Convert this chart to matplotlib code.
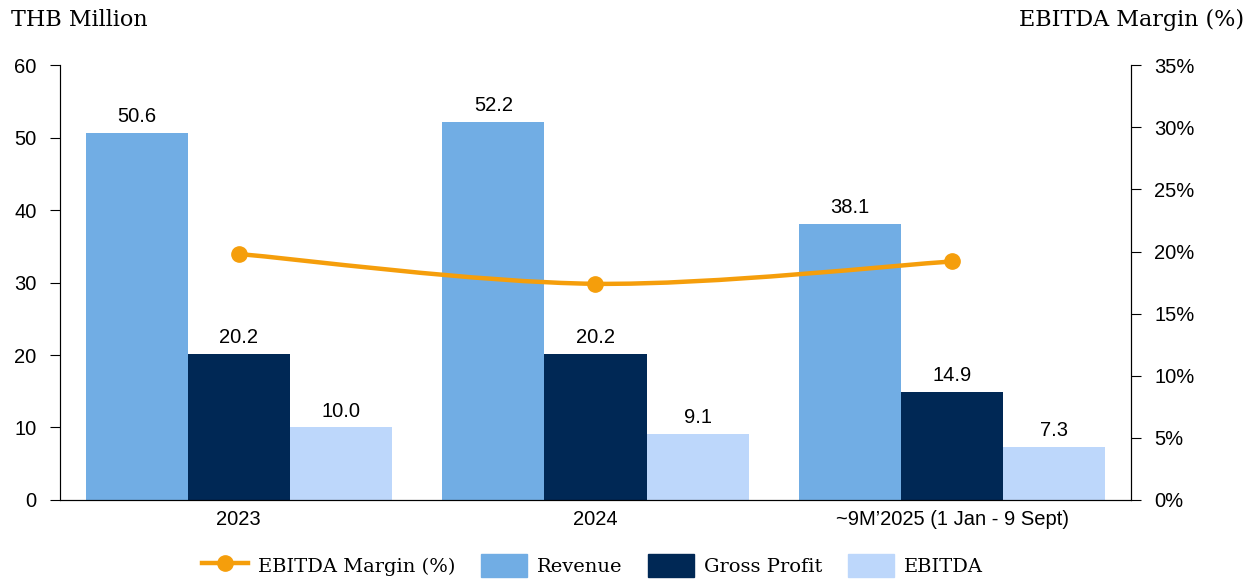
import matplotlib.pyplot as plt
import numpy as np
from matplotlib.path import Path
from matplotlib.patches import PathPatch
from matplotlib.lines import Line2D
from matplotlib.patches import Patch
from matplotlib.ticker import PercentFormatter

categories = ["2023", "2024", "~9M\u20192025 (1 Jan - 9 Sept)"]
revenue = [50.6, 52.2, 38.1]
gross_profit = [20.2, 20.2, 14.9]
ebitda = [10.0, 9.1, 7.3]
ebitda_margin = [19.8, 17.4, 19.2]

c_rev = "#71ADE4"
c_gp = "#002855"
c_eb = "#BDD7FB"
c_line = "#F59E0B"

sans = "Liberation Sans"
serif = "DejaVu Serif"
fs = 14.5

fig = plt.figure(figsize=(12.55, 5.82), dpi=100)
ax = fig.add_axes([0.048, 0.141, 0.853, 0.747])

x = np.arange(len(categories))
w = 0.286
for off, vals, col in [(-w, revenue, c_rev), (0, gross_profit, c_gp), (w, ebitda, c_eb)]:
    bars = ax.bar(x + off, vals, w, color=col, zorder=2)
    ax.bar_label(bars, labels=[f"{v:.1f}" for v in vals], padding=5,
                 fontsize=fs, fontfamily=sans)

ax.set_xlim(-0.5, 2.5)
ax.set_ylim(0, 60)
ax.set_yticks(range(0, 61, 10))
ax.set_xticks(x)
ax.set_xticklabels(categories)
ax.tick_params(axis="x", length=0, pad=7)
ax.tick_params(axis="y", length=7, direction="out", pad=10)
for lbl in ax.get_xticklabels() + ax.get_yticklabels():
    lbl.set_fontfamily(sans)
    lbl.set_fontsize(fs)
ax.spines["top"].set_visible(False)
ax.spines["left"].set_color("#555555")

ax2 = ax.twinx()
ax2.set_ylim(0, 35)
ax2.set_yticks(range(0, 36, 5))
ax2.yaxis.set_major_formatter(PercentFormatter(decimals=0))
ax2.tick_params(axis="y", length=7, direction="out", pad=10)
for lbl in ax2.get_yticklabels():
    lbl.set_fontfamily(sans)
    lbl.set_fontsize(fs)
ax2.spines["top"].set_visible(False)

# smoothed margin line (Bezier through the data points)
pts = np.column_stack([x, ebitda_margin]).astype(float)
ext = np.vstack([pts[0], pts, pts[-1]])
verts = [tuple(pts[0])]
codes = [Path.MOVETO]
for i in range(len(pts) - 1):
    p0, p1, p2, p3 = ext[i], ext[i + 1], ext[i + 2], ext[i + 3]
    c1 = p1 + (p2 - p0) / 6
    c2 = p2 - (p3 - p1) / 6
    verts += [tuple(c1), tuple(c2), tuple(p2)]
    codes += [Path.CURVE4] * 3
ax2.add_patch(PathPatch(Path(verts, codes), fill=False, edgecolor=c_line, lw=3.2, zorder=3))
ax2.plot(x, ebitda_margin, "o", color=c_line, ms=11, zorder=4)

fig.text(0.009, 0.965, "THB Million", fontsize=16, fontfamily=serif, va="center")
fig.text(0.991, 0.965, "EBITDA Margin (%)", fontsize=16, fontfamily=serif, va="center", ha="right")

handles = [Line2D([], [], color=c_line, lw=3.2, marker="o", ms=11),
           Patch(color=c_rev), Patch(color=c_gp), Patch(color=c_eb)]
fig.legend(handles, ["EBITDA Margin (%)", "Revenue", "Gross Profit", "EBITDA"],
           loc="center", bbox_to_anchor=(0.472, 0.028), ncol=4, frameon=False,
           prop={"family": serif, "size": 14}, handlelength=2.4, handleheight=1.4,
           columnspacing=1.3, handletextpad=0.5)

fig.savefig("out.png", dpi=100)
